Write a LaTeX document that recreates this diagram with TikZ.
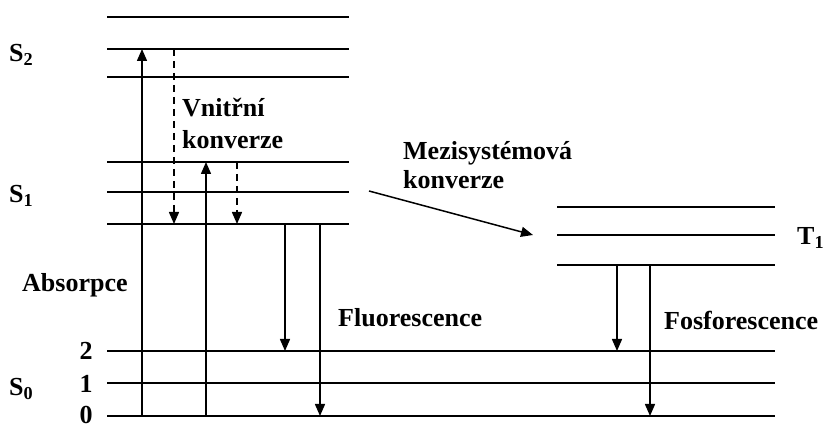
\documentclass[tikz,border=0pt]{standalone}
\usepackage{fontspec}
\setmainfont{Liberation Serif}[BoldFont={Liberation Serif Bold}]
\usetikzlibrary{arrows.meta}
\tikzset{
  lvl/.style={line width=1.7pt},
  arr/.style={line width=1.5pt,-{Triangle[length=12pt,width=10pt]}},
  darr/.style={arr,dash pattern=on 7pt off 5pt},
  lbl/.style={font=\fontsize{26}{28}\selectfont\bfseries,inner sep=0pt},
}
\begin{document}
\begin{tikzpicture}[x=1pt,y=-1pt]
\useasboundingbox (0,0) rectangle (833,427);
% levels
\foreach \n/\y in {s2a/17,s2b/49,s2c/77,s1a/162,s1b/192,s1c/224}{
  \coordinate (\n L) at (107,\y); \coordinate (\n R) at (349,\y);
  \draw[lvl] (\n L) -- (\n R);}
\foreach \n/\y in {t1a/207,t1b/235,t1c/265}{
  \coordinate (\n L) at (557,\y); \coordinate (\n R) at (775,\y);
  \draw[lvl] (\n L) -- (\n R);}
\foreach \n/\y in {s0c/351,s0b/383,s0a/416}{
  \coordinate (\n L) at (107,\y); \coordinate (\n R) at (775,\y);
  \draw[lvl] (\n L) -- (\n R);}
% arrows
\coordinate (a1s) at (142,416); \coordinate (a1e) at (142,49);
\coordinate (a2s) at (206,416); \coordinate (a2e) at (206,162);
\coordinate (d1s) at (174,49);  \coordinate (d1e) at (174,224);
\coordinate (d2s) at (237,162); \coordinate (d2e) at (237,224);
\coordinate (f1s) at (285,224); \coordinate (f1e) at (285,351);
\coordinate (f2s) at (320,224); \coordinate (f2e) at (320,416);
\coordinate (p1s) at (617,265); \coordinate (p1e) at (617,351);
\coordinate (p2s) at (650,265); \coordinate (p2e) at (650,416);
\coordinate (iscs) at (369,191); \coordinate (isce) at (533,235);
\draw[arr] (a1s) -- (a1e);
\draw[arr] (a2s) -- (a2e);
\draw[darr] (d1s) -- (d1e);
\draw[darr] (d2s) -- (d2e);
\draw[arr] (f1s) -- (f1e);
\draw[arr] (f2s) -- (f2e);
\draw[arr] (p1s) -- (p1e);
\draw[arr] (p2s) -- (p2e);
\draw[arr] (iscs) -- (isce);
% labels
\node[lbl,anchor=west] (S2) at (9,55) {S\textsubscript{2}};
\node[lbl,anchor=west] (S1) at (9,196) {S\textsubscript{1}};
\node[lbl,anchor=west] (S0) at (9,389) {S\textsubscript{0}};
\node[lbl,anchor=west] (T1) at (797,238) {T\textsubscript{1}};
\node[lbl,anchor=west] (vn) at (182,108) {Vnitřní};
\node[lbl,anchor=west] (ko1) at (182,140) {konverze};
\node[lbl,anchor=west] (me) at (403,153) {Mezisystémová};
\node[lbl,anchor=west] (ko2) at (403,180) {konverze};
\node[lbl,anchor=west] (ab) at (22,285) {Absorpce};
\node[lbl,anchor=west] (fl) at (338,318) {Fluorescence};
\node[lbl,anchor=west] (fo) at (664,320) {Fosforescence};
\node[lbl] (n2) at (86,351) {2};
\node[lbl] (n1) at (86,384) {1};
\node[lbl] (n0) at (86,415) {0};
\end{tikzpicture}
\end{document}
